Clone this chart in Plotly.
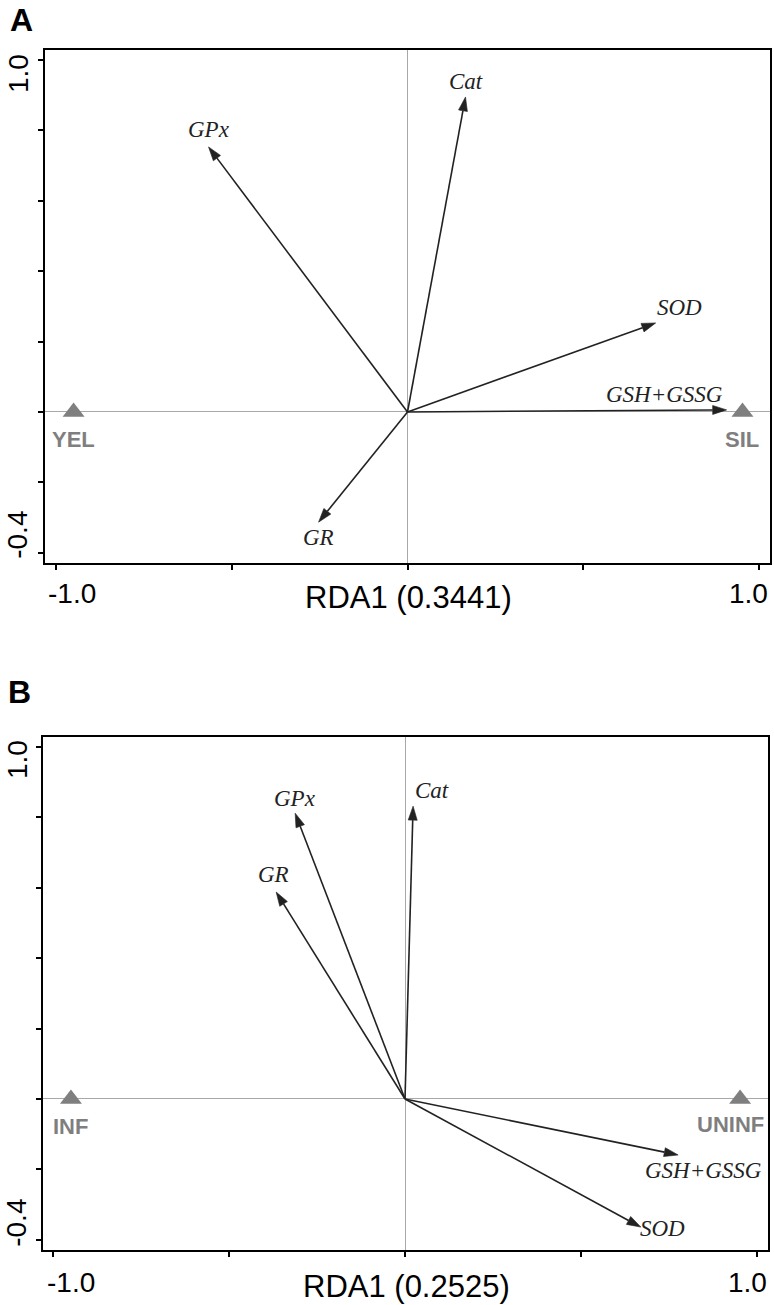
import numpy as np
import plotly.graph_objects as go

# ---------------- data ----------------
vars_a = ["GPx", "Cat", "SOD", "GSH+GSSG", "GR"]
rda1_a = [-0.566, 0.165, 0.706, 0.908, -0.253]
rda2_a = [0.753, 0.895, 0.253, 0.006, -0.313]
groups_a = ["YEL", "SIL"]
grp_rda1_a = [-0.950, 0.953]
grp_rda2_a = [0.0, 0.0]
title_a = "RDA1 (0.3441)"

vars_b = ["Cat", "GPx", "GR", "GSH+GSSG", "SOD"]
rda1_b = [0.023, -0.312, -0.366, 0.776, 0.670]
rda2_b = [0.832, 0.812, 0.588, -0.159, -0.364]
groups_b = ["INF", "UNINF"]
grp_rda1_b = [-0.949, 0.952]
grp_rda2_b = [0.0, 0.0]
title_b = "RDA1 (0.2525)"

x_ticks = [-1.0, -0.5, 0.0, 0.5, 1.0]
y_ticks = [1.0, 0.8, 0.6, 0.4, 0.2, 0.0, -0.2, -0.4]
x_tick_labels = ["-1.0", "1.0"]
y_tick_labels = ["1.0", "-0.4"]

# ---------------- styles ----------------
W, H = 774, 1305
PL, PR, PT, PB = 43, 770, 50, 1250   # plot block edges in page pixels
ML, MR, MT, MB = PL, W - PR, PT, H - PB
PXU = 352.0                      # pixels per data unit
HEAD_LEN, HEAD_W = 14 / PXU, 9 / PXU
ARROW_COL = "#222222"
GROUP_COL = "#7f7f7f"
SANS = "Liberation Sans, Arial, sans-serif"
SERIF = "Liberation Serif, Times New Roman, serif"

# label offsets (px) from arrow tip to label centre
lab_off_a = [(0, 17), (0, 15), (24, 15), (-62, 15), (0, -15)]
lab_off_b = [(19, 16), (0, 15), (-3, 18), (25, -16), (22, -1)]
grp_off_a = [(0, -28), (0, -28)]
grp_off_b = [(0, -28), (-10, -26)]

fig = go.Figure()


def add_panel(vx, vy, gx, gy, xa, ya):
    lx, ly, hx, hy = [], [], [], []
    for x, y in zip(vx, vy):
        v = np.array([x, y], dtype=float)
        u = v / np.hypot(x, y)
        n = np.array([-u[1], u[0]])
        base = v - HEAD_LEN * u
        p1 = base + HEAD_W / 2 * n
        p2 = base - HEAD_W / 2 * n
        lx += [0, base[0], None]
        ly += [0, base[1], None]
        hx += [x, p1[0], p2[0], x, None]
        hy += [y, p1[1], p2[1], y, None]
    fig.add_trace(go.Scatter(x=lx, y=ly, mode="lines", xaxis=xa, yaxis=ya,
                             line=dict(color=ARROW_COL, width=1.6),
                             hoverinfo="skip", showlegend=False))
    fig.add_trace(go.Scatter(x=hx, y=hy, mode="lines", fill="toself", xaxis=xa, yaxis=ya,
                             fillcolor=ARROW_COL, line=dict(color=ARROW_COL, width=0.6),
                             hoverinfo="skip", showlegend=False))
    fig.add_trace(go.Scatter(x=gx, y=gy, mode="markers", xaxis=xa, yaxis=ya,
                             marker=dict(symbol="triangle-up", size=19, color=GROUP_COL,
                                         line=dict(width=0)),
                             hoverinfo="skip", showlegend=False))


add_panel(rda1_a, rda2_a, grp_rda1_a, grp_rda2_a, "x", "y")
add_panel(rda1_b, rda2_b, grp_rda1_b, grp_rda2_b, "x2", "y2")

ann = []


def labels(names, vx, vy, offs, xr, yr, font):
    for nm, x, y, (dx, dy) in zip(names, vx, vy, offs):
        ann.append(dict(text=nm, x=x, y=y, xref=xr, yref=yr, showarrow=False,
                        xanchor="center", yanchor="middle", xshift=dx, yshift=dy,
                        font=font))


var_font = dict(family=SERIF, size=23, color=ARROW_COL)
grp_font = dict(family=SANS, size=22, color=GROUP_COL, weight="bold")

labels([f"<i>{v}</i>" for v in vars_a], rda1_a, rda2_a, lab_off_a, "x", "y", var_font)
labels([f"<i>{v}</i>" for v in vars_b], rda1_b, rda2_b, lab_off_b, "x2", "y2", var_font)
labels(groups_a, grp_rda1_a, grp_rda2_a, grp_off_a, "x", "y", grp_font)
labels(groups_b, grp_rda1_b, grp_rda2_b, grp_off_b, "x2", "y2", grp_font)

tick_font = dict(family=SANS, size=28, color="black")
title_font = dict(family=SANS, size=31, color="black")


def axis_text(xr, yr, xdom, ydom, title, xsh, ysh, ytx, ytsh):
    # x tick labels (-1.0, 1.0) and axis title under the 0 tick
    for lab, val, dx in zip(x_tick_labels, [x_ticks[0], x_ticks[-1]], xsh):
        ann.append(dict(text=lab, x=val, y=0, xref=xr, yref=ydom, showarrow=False,
                        xanchor="center", yanchor="middle", xshift=dx, yshift=ysh,
                        font=tick_font))
    ann.append(dict(text=title, x=x_ticks[2], y=0, xref=xr, yref=ydom, showarrow=False,
                    xanchor="center", yanchor="middle", xshift=1, yshift=ysh - 4,
                    font=title_font))
    # y tick labels (rotated)
    for lab, val, dy in zip(y_tick_labels, [y_ticks[0], y_ticks[-1]], ytsh):
        ann.append(dict(text=lab, x=0, y=val, xref=xdom, yref=yr, showarrow=False,
                        xanchor="center", yanchor="middle", xshift=ytx, yshift=dy,
                        textangle=-90, font=tick_font))


axis_text("x", "y", "x domain", "y domain", title_a, (16, -11), -30, -27, (-14, 18))
axis_text("x2", "y2", "x2 domain", "y2 domain", title_b, (18, -10), -32, -26, (-13, 17))

pw = W - ML - MR
ph = H - MT - MB
letter_font = dict(family=SANS, size=32, color="black", weight="bold")
for txt, (lx_, ly_) in zip(["A", "B"], [(21, 20), (20, 692)]):
    ann.append(dict(text=txt, x=(lx_ - PL) / pw, y=(PB - ly_) / ph,
                    xref="paper", yref="paper", showarrow=False, xanchor="center",
                    yanchor="middle", font=letter_font))

common_ax = dict(showline=True, mirror=True, linecolor="black", linewidth=2,
                 ticks="outside", ticklen=5, tickwidth=1.5, tickcolor="black",
                 showgrid=False, zeroline=True, zerolinecolor="#a8a8a8",
                 zerolinewidth=1, showticklabels=False, fixedrange=True)

fig.update_layout(
    width=W, height=H, template=None,
    margin=dict(l=ML, r=MR, t=MT, b=MB, autoexpand=False),
    paper_bgcolor="white", plot_bgcolor="white",
    showlegend=False,
    xaxis=dict(common_ax, domain=[2 / pw, 1], range=[-1.0313, 1.0313],
               tickvals=x_ticks, anchor="y"),
    yaxis=dict(common_ax, domain=[1 - 513 / ph, 1], range=[-0.429, 1.0284],
               tickvals=y_ticks, anchor="x"),
    xaxis2=dict(common_ax, domain=[0, 1 - 2 / pw], range=[-1.0284, 1.03125],
                tickvals=x_ticks, anchor="y2"),
    yaxis2=dict(common_ax, domain=[0, 513 / ph], range=[-0.429, 1.0284],
                tickvals=y_ticks, anchor="x2"),
    annotations=ann,
)

fig.write_html("out.html", config={"displayModeBar": False},
               post_script="document.body.style.margin='0px';")
